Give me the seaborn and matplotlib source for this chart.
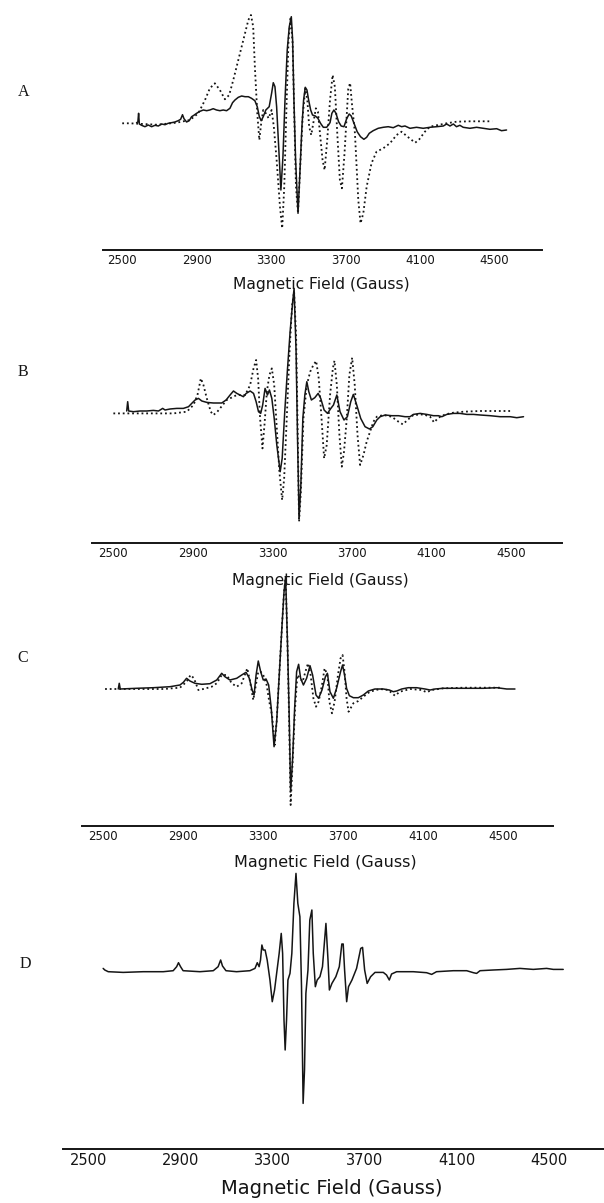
import matplotlib
matplotlib.use("Agg")
import matplotlib.pyplot as plt
from matplotlib.ticker import FixedLocator, MultipleLocator
import pandas as pd
import seaborn as sns

# ---- spectra (field in Gauss, signal in arbitrary units) ----
a_solid_field = [2576, 2583, 2587, 2591, 2603, 2621, 2639, 2657, 2675, 2693, 2711, 2729, 2746, 2764,
                 2782, 2800, 2813, 2823, 2831, 2845, 2859, 2872, 2884, 2899, 2917, 2935, 2953, 2970,
                 2988, 3006, 3024, 3042, 3060, 3078, 3092, 3105, 3123, 3141, 3159, 3177, 3194, 3212,
                 3225, 3236, 3246, 3257, 3271, 3289, 3302, 3311, 3320, 3329, 3340, 3352, 3363, 3374,
                 3386, 3397, 3408, 3415, 3422, 3431, 3444, 3454, 3465, 3474, 3483, 3492, 3501, 3512,
                 3522, 3537, 3551, 3565, 3580, 3598, 3616, 3626, 3637, 3648, 3662, 3676, 3691, 3705,
                 3719, 3730, 3745, 3762, 3780, 3798, 3813, 3827, 3848, 3875, 3902, 3929, 3956, 3983,
                 4001, 4019, 4046, 4081, 4117, 4153, 4189, 4225, 4243, 4261, 4279, 4296, 4314, 4332,
                 4368, 4404, 4440, 4476, 4512, 4538, 4565]
a_solid_signal = [1.3, 2, 10.7, 0, -1.3, -2.7, -1, -2.7, -1.3, -2, 0, -0.7, 0.7, 1.3,
                  2, 3.3, 4.7, 9.3, 5.3, 2, 3.3, 7.3, 8.7, 10.7, 12.7, 14, 13.3, 14,
                  15.3, 14, 13.3, 14, 13.3, 15.7, 21.3, 24, 26.7, 28, 27.3, 27.3, 25.7, 23.3,
                  17.3, 7.3, 3.3, 7.3, 14, 17.3, 30.7, 41.3, 37.3, 17.3, -22.7, -66, -32.7, 24,
                  74, 97.3, 107.3, 84, 24, -36, -89.3, -49.3, -2.7, 24, 36.7, 34, 24, 14,
                  9, 8, 5.7, 0.7, -3.3, -3.3, 1.3, 10.7, 14, 10.7, 2.3, -2, -2.7, 5,
                  10, 8, 0.7, -7.7, -12.7, -15.3, -13.3, -9.3, -6.7, -4.3, -3.3, -2.7, -3.7, -1.3,
                  -2.7, -2, -4.3, -3.3, -4.3, -3.3, -2.7, -2, 0, -2, 0, -2.7, -1.3, -3.3,
                  -4.3, -3.3, -4.3, -5.3, -4.7, -6.7, -6]

a_dotted_field = [2499, 2540, 2684, 2791, 2863, 2908, 2944, 2970, 2997, 3024, 3051, 3074, 3096, 3123,
                  3150, 3177, 3191, 3203, 3212, 3225, 3236, 3246, 3257, 3271, 3286, 3302, 3314, 3329,
                  3347, 3359, 3370, 3383, 3393, 3404, 3415, 3424, 3433, 3444, 3454, 3469, 3483, 3494,
                  3504, 3515, 3526, 3540, 3551, 3562, 3576, 3587, 3601, 3616, 3630, 3642, 3655, 3669,
                  3680, 3694, 3714, 3724, 3734, 3750, 3768, 3780, 3795, 3813, 3839, 3866, 3902, 3938,
                  3974, 4001, 4028, 4055, 4074, 4096, 4126, 4153, 4189, 4243, 4296, 4368, 4440, 4488]
a_dotted_signal = [0.7, 0.7, -0.7, 1.3, 4, 10.7, 24, 35.7, 40.7, 34, 24.7, 29, 44, 64,
                   84, 104, 109, 97.3, 57.3, 10.7, -16, 0.7, 14, 10.7, 5.7, 14, -2.7, -36,
                   -82.7, -104.3, -62.7, 24, 84, 107.3, 80.7, 7.3, -62.7, -89.3, -49.3, 7.3, 35.7, 24,
                   -2.7, -11, 0.7, 15.7, 12.3, -9.3, -36, -46, -16, 24, 49, 37.3, -9.3, -56,
                   -64.3, -29.3, 35, 41, 20, -9.3, -76, -99.3, -89.3, -62.7, -39.3, -27.7, -24.3, -19.3,
                   -11, -7.7, -12, -16, -18.7, -15.3, -7.7, -2.7, -1.3, 0.7, 2.3, 2.7, 2.7, 2.7]

b_solid_field = [2567, 2572, 2577, 2601, 2634, 2668, 2701, 2727, 2748, 2760, 2785, 2819, 2852, 2878,
                 2894, 2911, 2928, 2945, 2970, 3003, 3045, 3067, 3087, 3104, 3121, 3137, 3154, 3168,
                 3188, 3205, 3218, 3230, 3241, 3251, 3263, 3275, 3285, 3297, 3309, 3322, 3339, 3349,
                 3362, 3376, 3389, 3402, 3409, 3419, 3426, 3434, 3443, 3453, 3463, 3473, 3483, 3496,
                 3513, 3530, 3543, 3560, 3577, 3594, 3607, 3624, 3640, 3660, 3677, 3694, 3707, 3724,
                 3744, 3766, 3788, 3805, 3825, 3842, 3867, 3900, 3934, 3967, 3992, 4009, 4043, 4076,
                 4110, 4135, 4152, 4177, 4210, 4244, 4278, 4311, 4345, 4395, 4445, 4496, 4529, 4563]
b_solid_signal = [0.7, 10, 0.7, 0, 0.7, 0.7, 1.3, 0.7, 3.3, 1.7, 2.7, 3.3, 3.3, 5,
                  8.3, 11.7, 13.3, 10.7, 9.3, 8.7, 8.7, 11.7, 16.7, 20.7, 18.3, 16.7, 15, 18.3,
                  20.7, 18.3, 10, 0, -1.7, 6.7, 23.3, 16.7, 21.7, 13.3, -6.7, -33.3, -60, -46.7,
                  0, 43.3, 80, 110, 123.3, 60, -23.3, -106.7, -73.3, -6.7, 16.7, 30, 20, 11.7,
                  14, 18.3, 13.3, 1.7, -1.7, 3.3, 6.7, 16.7, 0, -8.3, -5, 10, 17.3, 6.7,
                  -6.7, -15, -17.3, -15, -8.3, -5, -3.3, -4, -4, -5, -5, -2.7, -1.7, -2.7,
                  -4, -4, -5, -2.7, -1.7, -1.7, -2.7, -2.7, -3.3, -4, -5, -5, -6, -5]

b_dotted_field = [2500, 2551, 2668, 2802, 2869, 2903, 2923, 2940, 2953, 2970, 2990, 3003, 3023, 3050,
                  3070, 3121, 3163, 3188, 3205, 3218, 3228, 3238, 3250, 3260, 3272, 3285, 3297, 3309,
                  3322, 3335, 3349, 3359, 3372, 3386, 3399, 3409, 3419, 3426, 3434, 3443, 3456, 3473,
                  3490, 3506, 3520, 3533, 3547, 3560, 3573, 3590, 3604, 3612, 3624, 3637, 3649, 3660,
                  3674, 3687, 3701, 3714, 3728, 3741, 3758, 3774, 3791, 3808, 3825, 3858, 3900, 3934,
                  3956, 3979, 4009, 4060, 4093, 4113, 4135, 4169, 4210, 4261, 4345, 4429, 4496]
b_dotted_signal = [-1.7, -1.7, -1.7, -1.7, 0, 6.7, 16.7, 33.3, 26.7, 13.3, 0, -3.3, 0, 6.7,
                   11.7, 16.7, 16.7, 26.7, 43.3, 51.7, 33.3, -6.7, -36.7, -13.3, 20, 36.7, 43.3, 26.7,
                   -16.7, -60, -88.3, -66.7, -6.7, 60, 106.7, 120, 76.7, -6.7, -110, -80, -6.7, 26.7,
                   40, 46.7, 50.7, 33.3, -6.7, -46.7, -33.3, 16.7, 43.3, 51, 26.7, -23.3, -55, -40,
                   -6.7, 36.7, 54, 26.7, -23.3, -53.3, -43.3, -30, -20, -10, -5, -3.3, -5, -10,
                   -12.7, -8.3, -3.3, -2.7, -5, -10.7, -6, -2.7, -1, 0, 0.7, 0.7, 0.7]

c_solid_field = [2575, 2580, 2585, 2667, 2751, 2834, 2884, 2901, 2917, 2934, 2959, 2993, 3034, 3068,
                 3093, 3109, 3134, 3168, 3193, 3215, 3231, 3245, 3255, 3265, 3276, 3288, 3301, 3315,
                 3328, 3341, 3355, 3368, 3381, 3395, 3405, 3413, 3422, 3430, 3438, 3448, 3458, 3468,
                 3478, 3488, 3502, 3518, 3535, 3548, 3565, 3578, 3595, 3612, 3622, 3635, 3652, 3668,
                 3688, 3698, 3708, 3718, 3732, 3752, 3777, 3802, 3827, 3860, 3902, 3932, 3952, 3969,
                 3994, 4027, 4069, 4111, 4136, 4161, 4202, 4269, 4336, 4403, 4470, 4520, 4561]
c_solid_signal = [0, 5.7, 0, 0.7, 1.3, 2.3, 4, 6.7, 10.7, 8, 5.7, 4.7, 5.3, 9,
                  15.7, 12.3, 9, 10.7, 14, 16.7, 10.7, -1, -6, 14, 28, 17.3, 9, 10,
                  4, -19.3, -57.7, -32.7, 14, 64, 97.3, 112.3, 47.3, -19.3, -102.7, -69.3, -19.3, 17.3,
                  24.7, 10.7, 4, 10.7, 23.3, 14, -6, -9.3, -1, 12.3, 15.7, -2.7, -9.3, 0.7,
                  17.3, 24, 14, 0.7, -6.7, -8.7, -8.7, -6, -2, 0, 0, -1, -2.7, -2,
                  0, 1.3, 1.3, 0, -1, 0, 0.7, 0.7, 0.7, 0.7, 1.3, 0, 0]

c_dotted_field = [2509, 2567, 2667, 2801, 2884, 2917, 2937, 2954, 2976, 3001, 3043, 3068, 3093, 3118,
                  3143, 3168, 3193, 3221, 3235, 3251, 3261, 3276, 3288, 3301, 3318, 3331, 3345, 3358,
                  3368, 3381, 3395, 3405, 3413, 3422, 3430, 3438, 3448, 3460, 3472, 3485, 3498, 3512,
                  3525, 3538, 3552, 3565, 3578, 3595, 3608, 3622, 3632, 3645, 3658, 3675, 3688, 3698,
                  3708, 3718, 3728, 3738, 3752, 3777, 3802, 3835, 3885, 3927, 3960, 3985, 4036, 4094,
                  4119, 4144, 4202, 4303, 4403, 4486]
c_dotted_signal = [0, 0, 0, 0, 1.3, 7.3, 14, 10.7, -1, 0, 2.3, 5.7, 14, 14,
                   5.7, 2.3, 5.7, 20.7, 7.3, -11, 0.7, 17.3, 17.3, 14, 4, -12.7, -26, -56,
                   -32.7, 14, 64, 97.3, 110.7, 47.3, -26, -116, -72.7, -19.3, 14, 10.7, 7.3, 17.3,
                   25.7, 14, -9.3, -17.7, -12.7, 4, 20.7, 14, -12.7, -24.3, -12.7, 14, 30.7, 34,
                   17.3, -9.3, -22.7, -19.3, -14.3, -12, -7.7, -2.7, 0, -1, -6.7, -2.7, 0, -1,
                   -3.3, -1, 0.7, 1.3, 1.3, 1.3]

d_solid_field = [2565, 2572, 2587, 2652, 2739, 2826, 2869, 2884, 2892, 2901, 2912, 2985, 3043, 3064,
                 3075, 3083, 3098, 3144, 3202, 3224, 3234, 3242, 3248, 3254, 3260, 3268, 3277, 3289,
                 3299, 3309, 3318, 3329, 3338, 3344, 3350, 3355, 3361, 3367, 3376, 3384, 3393, 3402,
                 3410, 3419, 3426, 3433, 3439, 3445, 3454, 3462, 3471, 3477, 3486, 3494, 3506, 3517,
                 3532, 3541, 3547, 3558, 3575, 3590, 3601, 3607, 3613, 3622, 3630, 3645, 3665, 3683,
                 3691, 3700, 3711, 3726, 3745, 3781, 3795, 3807, 3817, 3839, 3911, 3969, 3991, 4012,
                 4085, 4143, 4172, 4186, 4201, 4258, 4316, 4374, 4432, 4490, 4519, 4562]
d_solid_signal = [3.3, 1.7, 0, -0.7, 0, 0, 1, 5, 9, 5, 1, 0, 1, 5,
                  11.7, 5.7, 1, 0, 1, 3.3, 9, 5, 11.7, 26.7, 21.7, 21.7, 11.7, -8.3,
                  -30, -18.3, -1.7, 18.3, 38.3, 18.3, -48.3, -78.3, -48.3, -8.3, -1.7, 18.3, 68.3, 98.3,
                  68.3, 55, -15, -131.7, -98.3, -21.7, 1.7, 51.7, 61.7, 18.3, -15, -8.3, -5, 5,
                  48.3, 11.7, -18.3, -11.7, -5, 5, 27.7, 27.7, 1.7, -30, -15, -8.3, 3.3, 23.3,
                  24.3, 1.7, -11.7, -5, -0.7, -0.7, -3.3, -8.3, -2.3, 0, 0, -1, -2.7, 0,
                  1, 1, -1, -1.7, 1, 1.7, 2.3, 3.3, 2.3, 3.3, 2.3, 2.3]

panel_labels = ["A", "B", "C", "D"]
tick_values = [2500, 2900, 3300, 3700, 4100, 4500]
axis_title = "Magnetic Field (Gauss)"

# ---- page layout of the scan (pixels) ----
W, H = 604, 1203
# label, left, right, axis_y, top_y, baseline_y, xlim, letter (x, y), title (x, y), tick fs, title fs
layout = [
    ("A", 102.7, 541.7, 250.0, 0.0, 124.0, (2394, 4754), (24, 92), (321, 285), 8.5, 11.2),
    ("B", 91.7, 561.7, 543.3, 280.0, 411.7, (2391, 4755), (23, 372), (320, 581), 8.5, 11.2),
    ("C", 81.7, 552.7, 825.7, 570.0, 689.0, (2392, 4750), (23, 658), (325, 863), 8.5, 11.5),
    ("D", 63.3, 604.0, 1149.3, 860.0, 971.7, (2392, 4739), (25, 964), (332, 1189), 10.5, 14),
]
curves = {
    "A": [(a_solid_field, a_solid_signal, "-"), (a_dotted_field, a_dotted_signal, ":")],
    "B": [(b_solid_field, b_solid_signal, "-"), (b_dotted_field, b_dotted_signal, ":")],
    "C": [(c_solid_field, c_solid_signal, "-"), (c_dotted_field, c_dotted_signal, ":")],
    "D": [(d_solid_field, d_solid_signal, "-")],
}

sns.set_style("white")
plt.rcParams['font.family'] = ['DejaVu Sans']
ink = "#151515"

fig = plt.figure(figsize=(W / 100, H / 100), dpi=100)

for (lab, left, right, axis_y, top_y, base_y, xlim, lpos, tpos, tfs, hfs) in layout:
    ax = fig.add_axes([left / W, 1 - axis_y / H, (right - left) / W, (axis_y - top_y) / H])
    ax.set_facecolor("none")
    for field, signal, ls in curves[lab]:
        df = pd.DataFrame({"field": field, "signal": signal})
        if ls == "-":
            sns.lineplot(data=df, x="field", y="signal", ax=ax, color=ink, lw=1.1,
                         estimator=None, sort=False)
        else:
            sns.lineplot(data=df, x="field", y="signal", ax=ax, color=ink, lw=1.3,
                         estimator=None, sort=False, dashes=False, linestyle=(0, (1, 1.6)))
    ax.set_xlim(*xlim)
    ax.set_ylim(base_y - axis_y, base_y - top_y)
    for s in ["top", "left", "right"]:
        ax.spines[s].set_visible(False)
    ax.spines["bottom"].set_linewidth(1.4)
    ax.spines["bottom"].set_color(ink)
    ax.set_yticks([])
    majors = list(range(2500, 4701, 200))
    ax.xaxis.set_major_locator(FixedLocator(majors))
    ax.set_xticklabels([str(v) if v in tick_values else "" for v in majors], fontsize=tfs, color=ink)
    ax.xaxis.set_minor_locator(MultipleLocator(100))
    ax.tick_params(axis="x", which="major", direction="in", length=4, width=1, color=ink, pad=3)
    ax.tick_params(axis="x", which="minor", direction="in", length=2, width=0.8, color=ink)
    ax.set_xlabel("")
    ax.set_ylabel("")
    fig.text(lpos[0] / W, 1 - lpos[1] / H, lab, family=["Liberation Serif"], fontsize=11.5,
             ha="center", va="center", color=ink)
    fig.text(tpos[0] / W, 1 - tpos[1] / H, axis_title, fontsize=hfs, ha="center", va="center",
             color=ink)

fig.savefig("out.png", dpi=100, facecolor="white")
